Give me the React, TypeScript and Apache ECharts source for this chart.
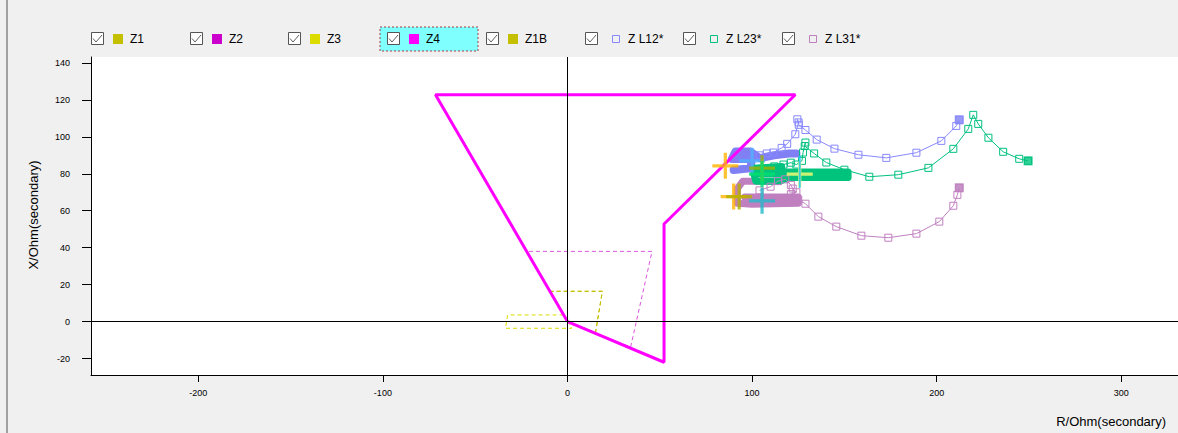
import React, { useEffect, useRef } from "react";
import * as echarts from "echarts";

// ---------- data ----------
const legendNames = ["Z1", "Z2", "Z3", "Z4", "Z1B", "Z L12*", "Z L23*", "Z L31*"];
const legendColors = ["#c4c000", "#cc00cc", "#dcdc00", "#ff00ff", "#c4c000", "#8888ff", "#00c080", "#c080c0"];
const xTicks = [-200, -100, 0, 100, 200, 300];
const yTicks = [-20, 0, 20, 40, 60, 80, 100, 120, 140];

const z1 = [[0, 0], [-9.6, 16.4], [18.9, 16.4], [15.2, -5.8], [0, 0]];
const z1b = [[0, 0], [-9.6, 16.4], [18.9, 16.4], [15.2, -5.8], [0, 0]];
const z2 = [[0, 0], [-22.3, 38], [45.8, 38], [34.2, -13.8], [0, 0]];
const z3 = [[-2.1, 3.6], [-32.4, 3.6], [-33.6, -3.6], [2.3, -3.6], [-2.1, 3.6]];
const z4 = [[0, 0], [-71.5, 122.8], [123.4, 122.8], [52.3, 52.8], [52.3, -22], [0, 0]];

// dense clusters of measured points
const zl12Cluster = [[90, 82], [99, 83], [100, 88], [89, 88], [91, 92], [99, 92], [104, 88.5], [112, 90], [120, 91], [124, 91]];
const zl23Cluster = [[101, 83], [116, 84], [116, 80], [101, 80], [102, 76], [115, 76], [120, 78], [152, 78], [152, 81], [118, 81]];
const zl31Cluster = [[113, 76], [95, 76], [92, 72], [92, 64], [100, 63.5], [125, 64], [125, 67.5], [96, 67.5]];

// trajectories
const zl12 = [[104, 90], [108, 91], [111.5, 91.5], [116, 94], [119, 96.2], [123.4, 101.4], [125.2, 107.8], [124.5, 109.5], [125.3, 106.5], [128.9, 103.7], [135, 98.5], [144.6, 93.6], [157.6, 90.3], [172.7, 88.6], [189, 91.4], [202.5, 97.8], [210.6, 105.9], [212.2, 109.2]];
const zl23 = [[112, 84], [117, 85], [121, 86], [124, 85], [127, 87], [127.6, 91.5], [128.9, 96.9], [128.5, 95], [133.6, 91], [140.2, 86.1], [150, 82.2], [163.5, 78.4], [179.2, 79.5], [195.5, 83.2], [209, 93.5], [217.1, 104.3], [219.8, 111.9], [222.5, 107], [228, 99.5], [236, 91.9], [244.7, 88.1], [249.5, 87]];
const zl31 = [[104, 71], [110, 73], [114, 76], [118, 77], [121, 74], [122, 72], [124, 70], [121, 69], [125, 66], [128.9, 63.8], [135.9, 56.8], [145.6, 51.4], [159.2, 46.5], [173.8, 45.4], [189, 47.6], [201.4, 54.1], [209, 62.7], [211.2, 68.6], [212.2, 72.4]];

// fault / reference crosses: [x, y, color]
const crossPoints: [number, number, string][] = [
  [85.5, 84.3, "#ffb400"],
  [90, 67.7, "#ffb400"],
  [93, 67.7, "#b0b000"],
  [100, 87, "#50b0ff"],
  [105.4, 83, "#a0b000"],
  [105.4, 79.8, "#00e070"],
  [125.8, 79.8, "#ffff70"],
  [105.4, 65.4, "#20b8c8"],
];
const cyanBar: [number, number][] = [[125.8, 81]];

// ---------- layout ----------
const W = 1178;
const H = 433;

function zoneSeries(name: string, data: number[][], color: string, width: number, dashed: boolean) {
  return {
    name,
    type: "line",
    data,
    symbol: "none",
    silent: true,
    lineStyle: { color, width, type: dashed ? [4, 3] : "solid" },
  };
}

function clusterSeries(data: number[][], color: string, width: number) {
  return {
    type: "line",
    data,
    symbol: "none",
    silent: true,
    lineStyle: { color, width, cap: "round", join: "round" },
  };
}

function trajSeries(name: string, data: number[][], color: string) {
  return {
    name,
    type: "line",
    data,
    symbol: "rect",
    symbolSize: 7,
    showSymbol: true,
    silent: true,
    itemStyle: { color: "rgba(255,255,255,0)", borderColor: color, borderWidth: 1 },
    lineStyle: { color, width: 1 },
  };
}

function endSeries(data: number[][], color: string) {
  return {
    type: "scatter",
    data,
    symbol: "rect",
    symbolSize: 9,
    silent: true,
    itemStyle: { color },
  };
}

function buildLegend() {
  const els: any[] = [];
  legendNames.forEach((name, i) => {
    const x = Math.round(91 + i * 98.7);
    const color = legendColors[i];
    if (name === "Z4") {
      els.push({
        type: "rect",
        shape: { x: x - 7, y: 27, width: 98, height: 24 },
        style: { fill: "#80ffff", stroke: "#a04040", lineWidth: 1, lineDash: [2, 2] },
      });
    }
    els.push({
      type: "rect",
      shape: { x: x + 0.5, y: 32.5, width: 12, height: 12 },
      style: { fill: "#ffffff", stroke: "#555555", lineWidth: 1 },
    });
    els.push({
      type: "polyline",
      shape: { points: [[x + 2, 38.5], [x + 5, 42], [x + 11, 35]] },
      style: { stroke: "#606060", lineWidth: 1, fill: "none" },
    });
    const hollow = name.startsWith("Z L");
    if (hollow) {
      els.push({
        type: "rect",
        shape: { x: x + 27.5, y: 35.5, width: 7, height: 7 },
        style: { fill: "none", stroke: color, lineWidth: 1 },
      });
    } else {
      els.push({
        type: "rect",
        shape: { x: x + 22, y: 34, width: 10, height: 10 },
        style: { fill: color },
      });
    }
    els.push({
      type: "text",
      x: x + (hollow ? 43 : 39),
      y: 39,
      style: {
        text: name,
        fill: "#000000",
        font: "12px 'Liberation Sans', Arial, sans-serif",
        textVerticalAlign: "middle",
      },
    });
  });
  return els;
}

export default function App() {
  const ref = useRef<HTMLDivElement>(null);
  useEffect(() => {
    if (!ref.current) return;
    const chart = echarts.init(ref.current, undefined, { renderer: "svg" });
    const axisFont = "'Liberation Sans', Arial, sans-serif";
    const crossSymbol = "path://M10.5,0h3v24h-3zM0,10.5h24v3h-24z";
    chart.setOption({
      animation: false,
      backgroundColor: "#f0f0f0",
      grid: {
        left: 91,
        top: 57,
        width: 1087,
        height: 318,
        show: true,
        backgroundColor: "#ffffff",
        borderWidth: 0,
      },
      xAxis: {
        type: "value",
        min: -258.1,
        max: 330.7,
        axisLine: { show: true, onZero: false, lineStyle: { color: "#000", width: 1 } },
        axisTick: { show: true, length: 7, customValues: xTicks, lineStyle: { color: "#000" } },
        axisLabel: {
          customValues: xTicks,
          fontSize: 9,
          fontFamily: axisFont,
          color: "#000",
          margin: 13,
        },
        splitLine: { show: false },
      },
      yAxis: {
        type: "value",
        min: -28.9,
        max: 143.2,
        axisLine: { show: true, onZero: false, lineStyle: { color: "#000", width: 1 } },
        axisTick: { show: true, length: 9, customValues: yTicks, lineStyle: { color: "#000" } },
        axisLabel: {
          customValues: yTicks,
          fontSize: 9,
          fontFamily: axisFont,
          color: "#000",
          margin: 21,
        },
        splitLine: { show: false },
      },
      series: [
        zoneSeries("Z1B", z1b, legendColors[4], 1, true),
        zoneSeries("Z1", z1, legendColors[0], 1, true),
        zoneSeries("Z3", z3, legendColors[2], 1, true),
        zoneSeries("Z2", z2, "#dd55dd", 1, true),
        clusterSeries(zl12Cluster, "#8080f4", 8),
        clusterSeries(zl31Cluster, "#c080c0", 7),
        clusterSeries(zl23Cluster, "#00c47c", 7),
        trajSeries("Z L12*", zl12, "#8888ff"),
        trajSeries("Z L31*", zl31, "#c080c0"),
        trajSeries("Z L23*", zl23, "#00c080"),
        {
          ...zoneSeries("Z4", z4, legendColors[3], 3, false),
          markLine: {
            silent: true,
            symbol: "none",
            label: { show: false },
            lineStyle: { color: "#000", width: 1, type: "solid" },
            data: [{ xAxis: 0 }, { yAxis: 0 }],
          },
        },
        endSeries([zl12[zl12.length - 1]], "#8080f4"),
        endSeries([zl23[zl23.length - 1]], "#00c47c"),
        endSeries([zl31[zl31.length - 1]], "#b878b8"),
        {
          type: "scatter",
          silent: true,
          symbol: crossSymbol,
          z: 5,
          data: crossPoints.map((p) => ({
            value: [p[0], p[1]],
            symbolSize: 26,
            itemStyle: { color: p[2] },
          })),
        },
        {
          type: "scatter",
          silent: true,
          z: 5,
          symbol: "path://M0,0h2v30h-2z",
          symbolSize: [2, 32],
          itemStyle: { color: "#10c0ff" },
          data: cyanBar,
        },
      ],
      graphic: [
        {
          type: "rect",
          shape: { x: 6, y: 0, width: 2, height: H },
          style: { fill: "#a0a0a0" },
        },
        ...buildLegend(),
        {
          type: "text",
          x: 1166,
          y: 421,
          style: {
            text: "R/Ohm(secondary)",
            fill: "#000",
            font: "13px 'Liberation Sans', Arial, sans-serif",
            textAlign: "right",
            textVerticalAlign: "middle",
          },
        },
        {
          type: "text",
          x: 33,
          y: 215,
          rotation: Math.PI / 2,
          style: {
            text: "X/Ohm(secondary)",
            fill: "#000",
            font: "13px 'Liberation Sans', Arial, sans-serif",
            textAlign: "center",
            textVerticalAlign: "middle",
          },
        },
      ],
    });
    return () => chart.dispose();
  }, []);
  return (
    <div
      ref={ref}
      style={{ position: "fixed", left: 0, top: 0, width: W, height: H }}
    />
  );
}
